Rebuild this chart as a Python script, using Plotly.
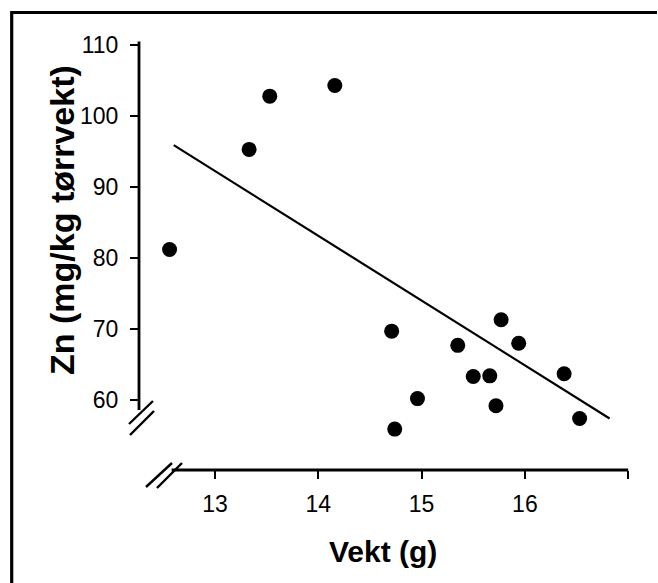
import plotly.graph_objects as go

# ---- data ----
weight_g = [12.56, 13.33, 13.53, 14.16, 14.71, 14.74, 14.96, 15.35, 15.50,
            15.66, 15.72, 15.77, 15.94, 16.38, 16.53]
zn_mgkg = [81.2, 95.3, 102.8, 104.3, 69.7, 55.9, 60.2, 67.7, 63.3,
           63.4, 59.2, 71.3, 68.0, 63.7, 57.4]
fit_x = [12.60, 16.82]
fit_y = [95.9, 57.4]

x_ticks = [13, 14, 15, 16, 17]
x_ticktext = ["13", "14", "15", "16", ""]
y_ticks = [60, 70, 80, 90, 100, 110]
y_ticktext = ["60", "70", "80", "90", "100", "110"]

x_title = "Vekt (g)"
y_title = "Zn (mg/kg tørrvekt)"

# ---- layout geometry (pixels) ----
W, H = 658, 583
L, R, T, B = 139, 26, 38, 113
PW, PH = W - L - R, H - T - B


def px(xp):
    return (xp - L) / PW


def py(yp):
    return (H - B - yp) / PH


fig = go.Figure()
fig.add_trace(go.Scatter(x=fit_x, y=fit_y, mode="lines",
                         line=dict(color="black", width=2.2),
                         hoverinfo="skip", showlegend=False))
fig.add_trace(go.Scatter(x=weight_g, y=zn_mgkg, mode="markers",
                         marker=dict(color="black", size=15),
                         showlegend=False))

shapes = []
# axis lines (broken axes)
shapes.append(dict(type="line", xref="paper", yref="y", x0=0, x1=0,
                   y0=58.6, y1=110.5, line=dict(color="black", width=2.8)))
shapes.append(dict(type="line", xref="x", yref="paper", x0=12.58, x1=17.0,
                   y0=0, y1=0, line=dict(color="black", width=2.8)))
# break marks
for (a, b, c, d) in [(153, 401, 129, 424), (154, 411, 130, 435),
                     (172, 463, 146, 487), (182, 463, 157, 488)]:
    shapes.append(dict(type="line", xref="paper", yref="paper",
                       x0=px(a), y0=py(b), x1=px(c), y1=py(d),
                       line=dict(color="black", width=2.4)))
# outer frame: left and top edges only (open path, no right/bottom edge)
shapes.append(dict(type="path", xref="paper", yref="paper",
                   path=(f"M {px(11.7)} {py(H)} L {px(11.7)} {py(12.5)} "
                         f"L {px(W - 1)} {py(12.5)}"),
                   line=dict(color="black", width=3.2)))

annotations = [
    dict(text=f"<b>{x_title}</b>", xref="paper", yref="paper",
         x=px(382.5), y=py(551), xanchor="center", yanchor="middle",
         showarrow=False, font=dict(size=30, color="black",
                                    family="Liberation Sans")),
    dict(text=f"<b>{y_title}</b>", xref="paper", yref="paper",
         x=px(62), y=py(220), xanchor="center", yanchor="middle",
         textangle=-90, showarrow=False,
         font=dict(size=34, color="black", family="Liberation Sans")),
]

fig.update_layout(
    width=W, height=H,
    margin=dict(l=L, r=R, t=T, b=B, pad=0),
    paper_bgcolor="white", plot_bgcolor="white",
    shapes=shapes, annotations=annotations,
    font=dict(family="Liberation Sans", color="black"),
)
fig.update_xaxes(range=[12.264, 17.037], showgrid=False, zeroline=False,
                 showline=False, ticks="outside", ticklen=8, tickwidth=2.2,
                 tickcolor="black", tickvals=x_ticks, ticktext=x_ticktext,
                 tickfont=dict(size=23, color="black"),
                 ticklabelstandoff=5)
fig.update_yaxes(range=[50.14, 110.99], showgrid=False, zeroline=False,
                 showline=False, ticks="outside", ticklen=8, tickwidth=2.2,
                 tickcolor="black", tickvals=y_ticks, ticktext=y_ticktext,
                 tickfont=dict(size=23, color="black"),
                 ticklabelstandoff=7)

fig.write_html("out.html", config={"displayModeBar": False},
               post_script="document.body.style.margin='0px';"
                           "document.body.style.overflow='hidden';")
